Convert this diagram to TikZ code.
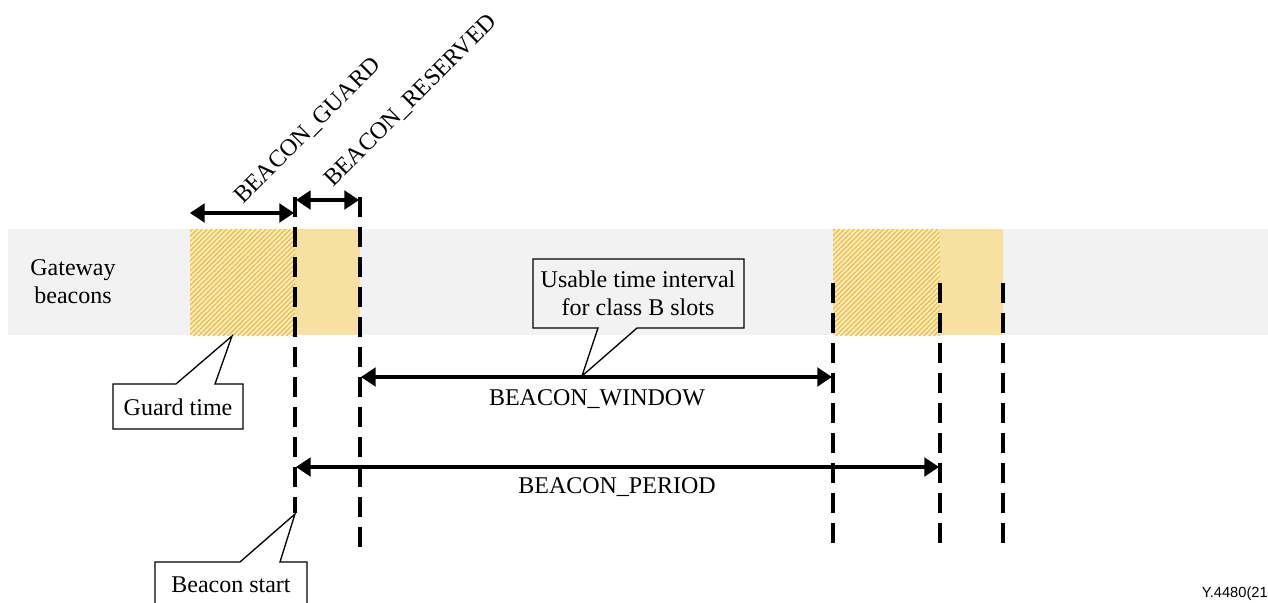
\documentclass[tikz,border=0pt]{standalone}
\usepackage{fontspec}
\setmainfont{Liberation Serif}
\newfontfamily\figsans{Liberation Sans}
\usetikzlibrary{arrows.meta,patterns.meta}
\definecolor{bandgray}{HTML}{F2F2F2}
\definecolor{resyellow}{HTML}{F7E0A0}
\definecolor{hatchbg}{HTML}{FBEDC8}
\definecolor{hatchfg}{HTML}{EFC24C}
\tikzset{
  lbl/.style={font=\fontsize{18}{21}\selectfont, inner sep=0pt, align=center},
  vdash/.style={line width=2.7pt, dash pattern=on 15pt off 7.5pt},
  dimarrow/.style={line width=2.4pt, {Triangle[length=11pt,width=14pt]}-{Triangle[length=11pt,width=14pt]}},
  callout/.style={line width=1pt, draw=black, line join=miter},
  hatched/.style={fill=hatchbg, postaction={pattern={Lines[angle=45,distance=2.6pt,line width=1.1pt]}, pattern color=hatchfg}}
}
\begin{document}
\begin{tikzpicture}[x=0.75pt,y=-0.75pt]
\useasboundingbox (0,0) rectangle (1268,603);
\clip (0,0) rectangle (1268,603);
% band
\fill[bandgray] (8,229) rectangle (1268,335);
\path[hatched] (190,229) rectangle (295,335);
\fill[resyellow] (295,229) rectangle (360,335);
\path[hatched] (833,229) rectangle (940,335);
\fill[resyellow] (940,229) rectangle (1003,335);
\node[lbl] (gw) at (73,282) {Gateway\\beacons};
% vertical dashed lines
\coordinate (a1) at (295,197); \coordinate (a2) at (295,513);
\coordinate (b1) at (360,197); \coordinate (b2) at (360,550);
\coordinate (c1) at (833,283); \coordinate (c2) at (833,545);
\coordinate (d1) at (940,283); \coordinate (d2) at (940,545);
\coordinate (e1) at (1003,283); \coordinate (e2) at (1003,545);
\draw[vdash] (a1) -- (a2);
\draw[vdash] (b1) -- (b2);
\draw[vdash] (c1) -- (c2);
\draw[vdash] (d1) -- (d2);
\draw[vdash] (e1) -- (e2);
% dimension arrows
\coordinate (g1) at (190,213); \coordinate (g2) at (294,213);
\draw[dimarrow] (g1) -- (g2);
\coordinate (r1) at (296,200); \coordinate (r2) at (359,200);
\draw[dimarrow] (r1) -- (r2);
\coordinate (w1) at (361,377); \coordinate (w2) at (832,377);
\draw[dimarrow] (w1) -- (w2);
\coordinate (p1) at (296,467); \coordinate (p2) at (939,467);
\draw[dimarrow] (p1) -- (p2);
% labels
\node[lbl, rotate=45, anchor=base west] (lguard) at (243,205) {BEACON\_GUARD};
\node[lbl, rotate=45, anchor=base west] (lres) at (333,188) {BEACON\_RESERVED};
\node[lbl] (lwin) at (597,399) {BEACON\_WINDOW};
\node[lbl] (lper) at (617,487) {BEACON\_PERIOD};
% callout usable
\draw[callout] (533,259) -- (744,259) -- (744,328) -- (637,328) -- (582,376) -- (598,328) -- (533,328) -- cycle;
\node[lbl] (usable) at (638,293) {Usable time interval\\for class B slots};
% callout guard time
\draw[callout, fill=white] (113,384) -- (176,384) -- (232,336) -- (215,384) -- (243,384) -- (243,429) -- (113,429) -- cycle;
\node[lbl] (guard) at (178,407) {Guard time};
% callout beacon start
\draw[callout, fill=white] (155,562) -- (240,562) -- (295,514) -- (280,562) -- (307,562) -- (307,620) -- (155,620) -- cycle;
\node[lbl] (bstart) at (231,585) {Beacon start};
% figure id
\node[font=\figsans\fontsize{11}{13}\selectfont, anchor=base east, inner sep=0pt] (fid) at (1268,597) {Y.4480(21};
\end{tikzpicture}
\end{document}
